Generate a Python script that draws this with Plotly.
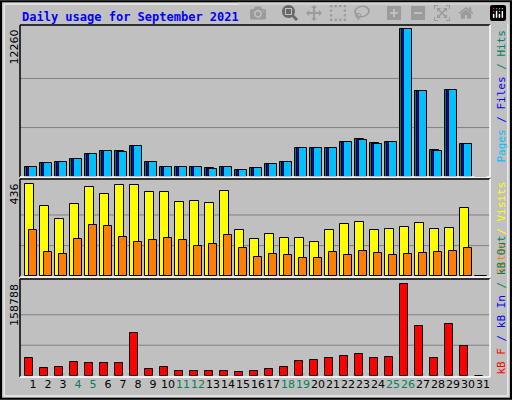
import plotly.graph_objects as go

days = list(range(1, 32))
hits = [777,1110,1193,1442,1858,2108,2108,2552,1193,777,777,777,693,777,527,693,1026,1193,2358,2358,2358,2857,3107,2774,2857,12260,7101,2191,7185,2691,0]
files = [777,1110,1193,1442,1858,2108,2025,2552,1193,777,777,777,610,777,527,693,1026,1193,2358,2358,2358,2857,3024,2691,2857,12260,7101,2108,7185,2691,0]
pages = files
visits = [436,332,270,341,422,389,431,431,398,398,351,356,346,403,218,175,199,180,180,161,218,246,256,218,223,232,251,223,228,322,0]
sites = [218,114,104,175,242,237,185,161,171,180,171,142,152,194,133,90,104,100,85,85,114,100,119,109,100,104,109,114,119,133,0]
kbf = [30134,12749,14488,23180,21442,21442,21442,73597,11011,14488,7534,7534,7534,7534,5795,7534,11011,14488,24919,26657,30134,33611,37088,30134,31873,158788,85766,30134,89243,50996,0]
weekend = {4,5,11,12,18,19,25,26}
max_hits, max_visits, max_kb = 12260, 436, 158788

W, H = 512, 400
def py(p): return 1 - p / H

fig = go.Figure()
line = dict(color="black", width=1)
def bar(y, color, off, w, ax):
    fig.add_trace(go.Bar(x=days, y=y, offset=off, width=w, marker=dict(color=color, line=line),
                         xaxis="x", yaxis=ax, showlegend=False, hoverinfo="skip"))
bar(hits, "#00805c", -0.27, 0.62, "y")
bar(files, "#0000ff", -0.14, 0.6, "y")
bar(pages, "#00c0ff", 0.0, 0.51, "y")
bar(visits, "#ffff00", -0.27, 0.58, "y2")
bar(sites, "#ff8000", 0.0, 0.51, "y2")
bar(kbf, "#ff0000", -0.27, 0.51, "y3")

grid = dict(showgrid=False, showticklabels=False, zeroline=False, ticks="")
fig.update_layout(
    width=W, height=H, margin=dict(l=0, r=0, t=0, b=0), autosize=False,
    paper_bgcolor="#c0c0c0", plot_bgcolor="#c0c0c0", barmode="overlay",
    xaxis=dict(domain=[20/W, 490/W], range=[0.4, 31.73], anchor="y3",
               tickvals=[d + 0.27 for d in days], tickangle=0,
               ticktext=[f"<span style='color:#00805c'>{d}</span>" if d in weekend else str(d) for d in days],
               tickfont=dict(family="DejaVu Sans", size=11, color="black"), ticks="", showgrid=False, zeroline=False),
    yaxis=dict(domain=[py(176.7), py(25)], range=[0, max_hits*151.7/147.4], **grid),
    yaxis2=dict(domain=[py(276.3), py(180)], range=[0, max_visits*96.3/92], **grid),
    yaxis3=dict(domain=[py(375.7), py(280)], range=[0, max_kb*95.7/91.4], **grid),
    bargap=0,
)
shapes = []
for ax, mx in (("y", max_hits), ("y2", max_visits), ("y3", max_kb)):
    for f in (1/3, 2/3):
        shapes.append(dict(type="line", xref="x domain", yref=ax, x0=0, x1=1, y0=mx*f, y1=mx*f,
                           line=dict(color="#808080", width=1), layer="below"))
for top, bot in ((25, 177), (179, 277), (279, 377)):
    shapes.append(dict(type="line", xref="paper", yref="paper", x0=20/W, x1=490/W, y0=py(top), y1=py(top), line=dict(color="black", width=1.5)))
    shapes.append(dict(type="line", xref="paper", yref="paper", x0=20/W, x1=20/W, y0=py(top), y1=py(bot), line=dict(color="black", width=1.5)))
    shapes.append(dict(type="line", xref="paper", yref="paper", x0=20/W, x1=490/W, y0=py(bot), y1=py(bot), line=dict(color="white", width=1.5)))
    shapes.append(dict(type="line", xref="paper", yref="paper", x0=490/W, x1=490/W, y0=py(top), y1=py(bot), line=dict(color="white", width=1.5)))
shapes.append(dict(type="rect", xref="paper", yref="paper", x0=0.002, x1=0.998, y0=0.003, y1=0.997, line=dict(color="black", width=2)))
shapes.append(dict(type="rect", xref="paper", yref="paper", x0=0.008, x1=0.992, y0=0.01, y1=0.99, line=dict(color="white", width=1)))
fig.update_layout(shapes=shapes)

ann = [dict(text="<b>Daily usage for September 2021</b>", x=20/W, y=py(8), xanchor="left", yanchor="top",
            font=dict(family="DejaVu Sans Mono", size=12, color="#0000ff"))]
for val, top in ((max_hits, 28), (max_visits, 182), (max_kb, 282)):
    ann.append(dict(text=str(val), x=14/W, y=py(top), xanchor="center", yanchor="top", textangle=-90,
                    font=dict(family="DejaVu Sans", size=11, color="black")))
mono = "DejaVu Sans Mono"
def sp(t, c): return f"<span style='color:{c}'>{t}</span>"
ann.append(dict(text=sp("Pages", "#00c0ff") + sp(" / ", "#0000ff") + sp("Files", "#0000ff") + sp(" / ", "#00805c") + sp("Hits", "#00805c"),
                x=501/W, y=py(28), xanchor="center", yanchor="top", textangle=-90, font=dict(family=mono, size=11)))
ann.append(dict(text=sp("Sites", "#ff8000") + sp(" / ", "#ffff00") + sp("Visits", "#ffff00"),
                x=501/W, y=py(180), xanchor="center", yanchor="top", textangle=-90, font=dict(family=mono, size=11)))
ann.append(dict(text=sp("kB F", "#ff0000") + sp(" / ", "#0000ff") + sp("kB In", "#0000ff") + sp(" / ", "#00805c") + sp("kB Out", "#00805c"),
                x=501/W, y=py(377), xanchor="center", yanchor="bottom", textangle=-90, font=dict(family=mono, size=11)))
for a in ann:
    a.update(xref="paper", yref="paper", showarrow=False)
fig.update_layout(annotations=ann)
fig.write_html("out.html", post_script="document.body.style.margin='0';document.body.style.overflow='hidden';")
